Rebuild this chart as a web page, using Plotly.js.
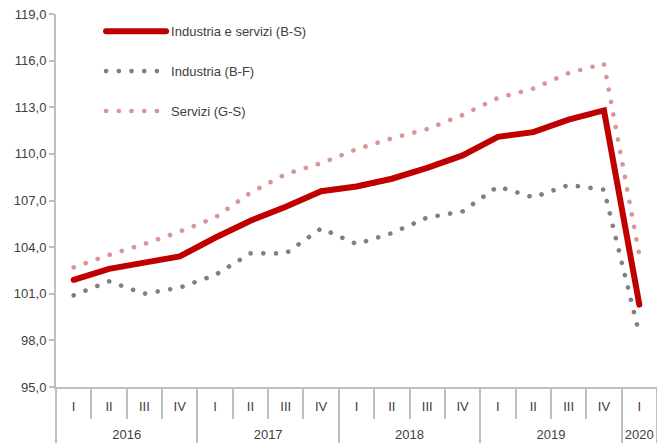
<!DOCTYPE html>
<html>
<head>
<meta charset="utf-8">
<script src="https://cdn.plot.ly/plotly-3.0.1.min.js"></script>
<style>
html,body{margin:0;padding:0;background:#fff;}
#chart{width:657px;height:448px;}
.scatterlayer path.js-line, .legend path.js-line { stroke-linecap: round; }
</style>
</head>
<body>
<div id="chart"></div>
<script>
const years = ['2016','2016','2016','2016','2017','2017','2017','2017','2018','2018','2018','2018','2019','2019','2019','2019','2020'];
const quarters = ['I','II','III','IV','I','II','III','IV','I','II','III','IV','I','II','III','IV','I'];
const industriaServizi = [101.9, 102.6, 103.0, 103.4, 104.6, 105.7, 106.6, 107.6, 107.9, 108.4, 109.1, 109.9, 111.1, 111.4, 112.2, 112.8, 100.3];
const industria = [100.9, 101.8, 101.0, 101.4, 102.2, 103.6, 103.6, 105.2, 104.2, 104.9, 105.9, 106.3, 107.9, 107.2, 108.0, 107.7, 98.4];
const servizi = [102.7, 103.5, 104.2, 105.0, 105.9, 107.5, 108.7, 109.4, 110.3, 111.0, 111.6, 112.5, 113.6, 114.2, 115.2, 115.8, 103.5];
const seriesNames = ['Industria e servizi (B-S)', 'Industria (B-F)', 'Servizi (G-S)'];
const yTicks = [95, 98, 101, 104, 107, 110, 113, 116, 119];

const FONT = 'Liberation Sans Narrow, Arial Narrow, Liberation Sans, Arial, sans-serif';
// year labels get an empty first line so they sit lower, below the quarter row
const x = [years.map(function (yr) { return '<br>' + yr; }), quarters];

const traces = [
  {x: x, y: industriaServizi, name: seriesNames[0], type: 'scatter', mode: 'lines',
   line: {color: '#C00000', width: 6}, legendgroup: 'a'},
  {x: x, y: industria, name: seriesNames[1], type: 'scatter', mode: 'lines',
   line: {color: '#808080', width: 4.6, dash: '0.1px,12.6px'}, legendgroup: 'b'},
  {x: x, y: servizi, name: seriesNames[2], type: 'scatter', mode: 'lines',
   line: {color: '#DA9694', width: 4.6, dash: '0.1px,12.6px'}, legendgroup: 'c'}
];

const layout = {
  width: 657, height: 448,
  margin: {l: 56, r: 0, t: 14, b: 61},
  paper_bgcolor: '#fff', plot_bgcolor: '#fff',
  separators: ',.',
  font: {family: FONT, size: 13, color: '#404040'},
  showlegend: true,
  legend: {x: 0.075, y: 0.994, xanchor: 'left', yanchor: 'top', bgcolor: 'rgba(0,0,0,0)',
           font: {family: FONT, size: 13, color: '#404040'}, tracegroupgap: 20, itemwidth: 60,
           traceorder: 'grouped'},
  xaxis: {type: 'multicategory', range: [-0.5, 16.5], showline: true, linecolor: '#BFBFBF', linewidth: 2,
          ticks: 'outside', tickson: 'boundaries', ticklen: 30, tickcolor: '#BFBFBF', tickwidth: 2,
          ticklabelstandoff: 6,
          dividercolor: '#BFBFBF', dividerwidth: 2, showgrid: false, zeroline: false,
          tickfont: {family: FONT, size: 13, color: '#404040'}},
  yaxis: {range: [95, 119], tickvals: yTicks, tickformat: '.1f', showline: true,
          linecolor: '#BFBFBF', linewidth: 2, ticks: 'outside', ticklen: 5, tickcolor: '#BFBFBF',
          tickwidth: 2, showgrid: false, zeroline: false,
          tickfont: {family: FONT, size: 13, color: '#404040'}}
};

Plotly.newPlot('chart', traces, layout, {displayModeBar: false, staticPlot: true});
</script>
</body>
</html>
